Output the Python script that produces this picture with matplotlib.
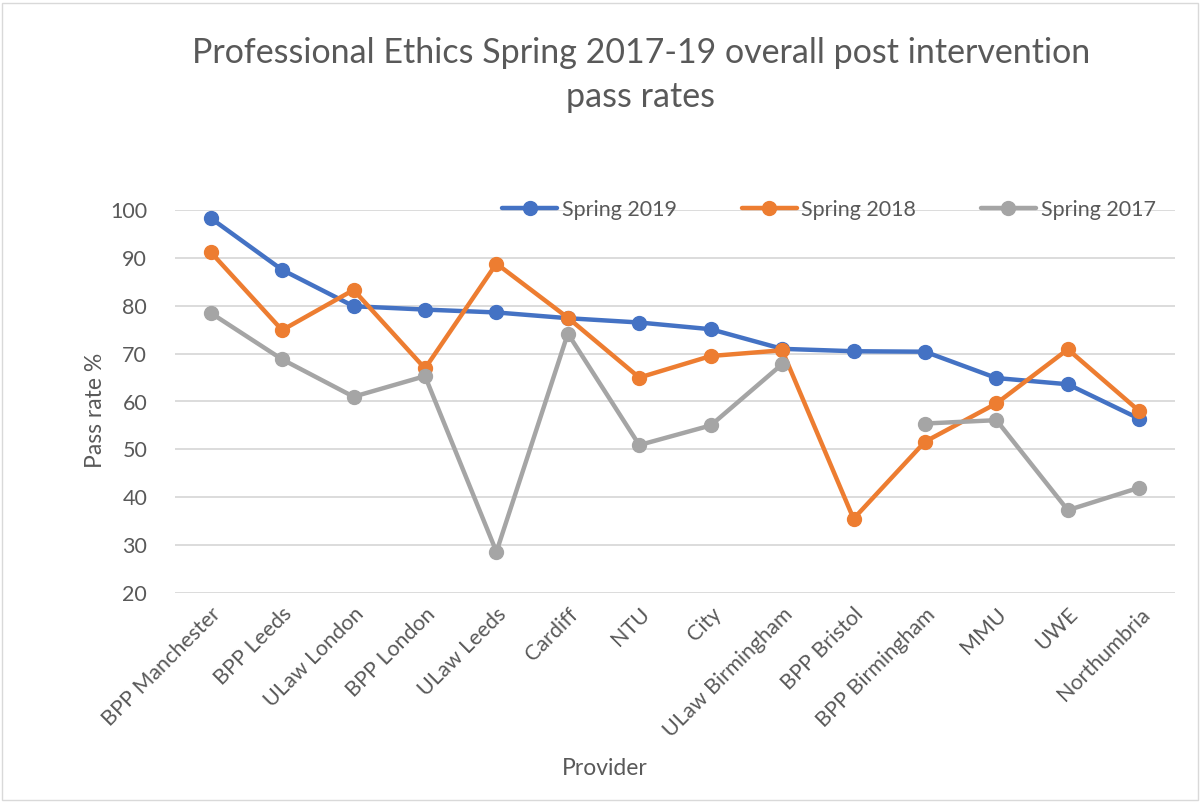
import numpy as np
import matplotlib
matplotlib.use("Agg")
import matplotlib.pyplot as plt
from matplotlib.patches import Rectangle

plt.rcParams['font.family'] = ['Lato', 'DejaVu Sans']

providers = ['BPP Manchester', 'BPP Leeds', 'ULaw London', 'BPP London', 'ULaw Leeds',
             'Cardiff', 'NTU', 'City', 'ULaw Birmingham', 'BPP Bristol',
             'BPP Birmingham', 'MMU', 'UWE', 'Northumbria']
spring_2019 = [98.3, 87.5, 79.9, 79.2, 78.6, 77.4, 76.5, 75.1, 71.0, 70.5, 70.4, 64.9, 63.6, 56.4]
spring_2018 = [91.2, 74.9, 83.3, 66.9, 88.8, 77.5, 65.0, 69.5, 70.7, 35.5, 51.6, 59.6, 70.9, 58.0]
spring_2017 = [78.5, 68.8, 61.0, 65.3, 28.6, 74.2, 50.9, 55.0, 67.8, np.nan, 55.4, 56.1, 37.3, 42.0]

series = [
    ('Spring 2019', spring_2019, '#4472C4'),
    ('Spring 2018', spring_2018, '#ED7D31'),
    ('Spring 2017', spring_2017, '#A5A5A5'),
]

text_color = '#595959'

fig = plt.figure(figsize=(12.04, 8.05), dpi=100)
ax = fig.add_axes([175 / 1204, 1 - 593 / 805, 1000 / 1204, 383 / 805])

x = np.arange(len(providers))
for label, vals, color in series:
    ax.plot(x, vals, color=color, lw=3.2, marker='o', markersize=10,
            label=label, solid_capstyle='round', zorder=3)

ax.set_xlim(-0.5, len(providers) - 0.5)
ax.set_ylim(20, 100)
ax.set_yticks(range(20, 101, 10))
ax.grid(axis='y', color='#D9D9D9', lw=1.3, zorder=0)
for s in ax.spines.values():
    s.set_visible(False)
ax.tick_params(length=0, labelsize=15.5, labelcolor=text_color)
ax.tick_params(axis='y', pad=20)
ax.tick_params(axis='x', pad=8)
ax.set_xticks(x)
ax.set_xticklabels(providers, rotation=45, ha='right', rotation_mode='anchor')

ax.set_ylabel('Pass rate %', fontsize=16.5, color=text_color)
ax.yaxis.set_label_coords(-0.069, 0.478)
ax.set_xlabel('Provider', fontsize=16.5, color=text_color)
ax.xaxis.set_label_coords(0.43, -0.431)

fig.text(641 / 1204, 1 - 75 / 805,
         'Professional Ethics Spring 2017-19 overall post intervention\npass rates',
         ha='center', va='center', fontsize=24.5, color=text_color, linespacing=1.45)

ax.legend(loc='center', bbox_to_anchor=(0.654, 1.0), ncol=3, frameon=False,
          fontsize=15.5, labelcolor=text_color, handlelength=2.55,
          columnspacing=3.0, handletextpad=0.23)

fig.patches.append(Rectangle((0.002, 0.006), 0.993, 0.99, transform=fig.transFigure,
                             fill=False, edgecolor='#D9D9D9', lw=1))

fig.savefig('out.png', dpi=100)
